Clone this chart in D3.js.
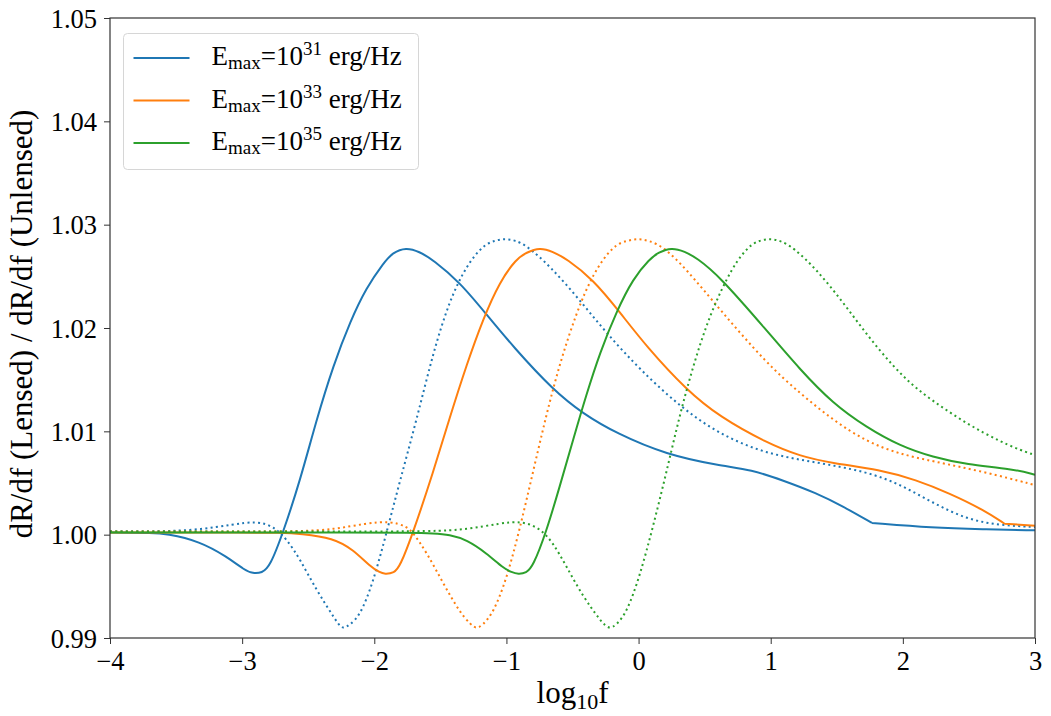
<!DOCTYPE html>
<html>
<head>
<meta charset="utf-8">
<script src="https://cdn.jsdelivr.net/npm/d3@7"></script>
<style>
  html, body { margin: 0; padding: 0; background: #fff; }
  svg text { font-family: "Liberation Serif", "Times New Roman", serif; fill: #000; }
</style>
</head>
<body>
<svg id="chart" width="1051" height="716"></svg>
<script>
// log10 f and lensed/unlensed rate ratio for each maximum energy
const blueSolid = [
  [-4.0, 1.0002], [-3.85, 1.0002], [-3.7, 1.00018], [-3.57, 1.0001], [-3.32, 0.99935], [-3.12, 0.9979],
  [-2.98, 0.99655], [-2.92, 0.99625], [-2.85, 0.9963], [-2.79, 0.9969], [-2.69, 1.0002], [-2.56, 1.0053], [-2.44, 1.0110],
  [-2.31, 1.0164], [-2.18, 1.0207], [-2.06, 1.0239], [-1.93, 1.0263], [-1.86, 1.0273], [-1.76, 1.0278],
  [-1.66, 1.0274], [-1.555, 1.0266], [-1.35, 1.0244], [-1.15, 1.0213], [-0.95, 1.0182], [-0.647, 1.0140],
  [-0.42, 1.0117], [-0.167, 1.0098], [0.21, 1.00774], [0.614, 1.00668], [0.854, 1.00630],
  [1.093, 1.00525], [1.345, 1.00403], [1.547, 1.00274], [1.766, 1.00113],
  [2.228, 1.00065], [2.6, 1.00052], [3.0, 1.00042]
];
const blueDotted = [
  [-4.0, 1.0003], [-3.8, 1.0003], [-3.57, 1.00032], [-3.32, 1.0005], [-3.07, 1.00097], [-2.89, 1.00132],
  [-2.76, 1.0008], [-2.66, 0.99952], [-2.56, 0.99758], [-2.44, 0.99468], [-2.31, 0.99209], [-2.27, 0.99130],
  [-2.235, 0.99088], [-2.19, 0.99125], [-2.11, 0.99209], [-2.01, 0.99532], [-1.907, 1.0002], [-1.806, 1.0052],
  [-1.68, 1.0111], [-1.555, 1.0176], [-1.43, 1.0227], [-1.30, 1.0261], [-1.176, 1.0280], [-1.09, 1.02847],
  [-1.01, 1.02864], [-0.93, 1.02847], [-0.85, 1.0280], [-0.67, 1.0260], [-0.445, 1.0227], [-0.243, 1.0195],
  [0.009, 1.0160], [0.312, 1.0124], [0.614, 1.0097], [0.967, 1.00780], [1.345, 1.0070],
  [1.724, 1.0061], [1.976, 1.0049], [2.228, 1.00307], [2.48, 1.00150], [2.73, 1.00090],
  [3.0, 1.00075]
];
const orangeSolid = [
  [-4.0, 1.0002], [-3.5, 1.0002], [-3.0, 1.0002], [-2.7, 1.00019], [-2.56, 1.0001], [-2.31, 0.99968], [-2.16, 0.99855],
  [-2.03, 0.9969], [-1.96, 0.99635], [-1.92, 0.99618], [-1.85, 0.9963], [-1.806, 0.9969], [-1.706, 1.0002], [-1.555, 1.0060],
  [-1.43, 1.0113], [-1.30, 1.0165], [-1.176, 1.0209], [-1.05, 1.0245], [-0.924, 1.0267], [-0.85, 1.0273],
  [-0.747, 1.0278], [-0.65, 1.0274], [-0.545, 1.0267], [-0.344, 1.0247], [-0.14, 1.0215], [0.06, 1.0182],
  [0.362, 1.0140], [0.614, 1.01140], [0.967, 1.0089], [1.22, 1.0076], [1.47, 1.00690],
  [1.825, 1.00630], [2.10, 1.0053], [2.354, 1.0040], [2.61, 1.0024],
  [2.77, 1.00106], [3.0, 1.00087]
];
const orangeDotted = [
  [-4.0, 1.0003], [-3.5, 1.0003], [-3.0, 1.0003], [-2.56, 1.00032], [-2.31, 1.0005], [-2.06, 1.0011], [-1.88, 1.00132],
  [-1.756, 1.0008], [-1.706, 1.0002], [-1.60, 0.9982], [-1.48, 0.99532], [-1.35, 0.99242], [-1.27, 0.99130],
  [-1.226, 0.99088], [-1.18, 0.99125], [-1.10, 0.99242], [-1.0, 0.99565], [-0.90, 1.0005], [-0.80, 1.0060],
  [-0.70, 1.0115], [-0.596, 1.0166], [-0.47, 1.0215], [-0.344, 1.0253], [-0.193, 1.0280], [-0.085, 1.02847],
  [-0.004, 1.02864], [0.075, 1.02847], [0.185, 1.0279], [0.362, 1.0257], [0.614, 1.0218], [0.967, 1.0166],
  [1.22, 1.0137], [1.47, 1.0111], [1.724, 1.0090], [1.976, 1.0078], [2.228, 1.0071],
  [2.61, 1.0061], [3.0, 1.0048]
];
const greenSolid = [
  [-4.0, 1.0002], [-3.0, 1.0002], [-2.2, 1.0002], [-1.7, 1.00019], [-1.555, 1.00012], [-1.43, 1.0000], [-1.30, 0.9995],
  [-1.15, 0.9982], [-1.025, 0.99678], [-0.96, 0.99635], [-0.91, 0.99618], [-0.85, 0.9963], [-0.80, 0.9969], [-0.70, 1.0002],
  [-0.596, 1.0047], [-0.495, 1.0092], [-0.394, 1.0136], [-0.293, 1.0176], [-0.167, 1.0216],
  [-0.041, 1.0248], [0.085, 1.0267], [0.15, 1.0273], [0.249, 1.0278], [0.35, 1.0274], [0.438, 1.0268], [0.614, 1.0250],
  [0.967, 1.0198], [1.22, 1.0160], [1.47, 1.0127], [1.724, 1.0104],
  [1.976, 1.0086], [2.228, 1.0075], [2.48, 1.0068], [2.833, 1.00636], [3.0, 1.0058]
];
const greenDotted = [
  [-4.0, 1.0003], [-3.0, 1.0003], [-2.2, 1.0003], [-1.555, 1.00032], [-1.30, 1.0005], [-1.05, 1.0011], [-0.886, 1.00132],
  [-0.747, 1.00065], [-0.646, 0.9992], [-0.545, 0.9969], [-0.42, 0.9940], [-0.293, 0.99177], [-0.26, 0.99130],
  [-0.218, 0.99088], [-0.17, 0.99125], [-0.091, 0.99242], [0.009, 0.99597], [0.11, 1.0008], [0.21, 1.0060],
  [0.31, 1.0115], [0.412, 1.0163], [0.538, 1.0213], [0.715, 1.0261],
  [0.841, 1.0280], [0.913, 1.02847], [0.993, 1.02864], [1.073, 1.02847], [1.17, 1.0278], [1.345, 1.0257], [1.547, 1.0225],
  [1.724, 1.0194], [1.925, 1.0163], [2.10, 1.0141], [2.354, 1.0118], [2.61, 1.0098],
  [2.86, 1.0083], [3.0, 1.0077]
];

const xTicks = [-4, -3, -2, -1, 0, 1, 2, 3];
const yTicks = [0.99, 1.00, 1.01, 1.02, 1.03, 1.04, 1.05];
const legendExponents = ["31", "33", "35"];
const colors = ["#1f77b4", "#ff7f0e", "#2ca02c"];

// "corner" marks the log10 f where a curve has a sharp bend
const series = [
  { data: blueSolid, color: colors[0], dotted: false, corner: 1.766 },
  { data: blueDotted, color: colors[0], dotted: true },
  { data: orangeSolid, color: colors[1], dotted: false, corner: 2.77 },
  { data: orangeDotted, color: colors[1], dotted: true },
  { data: greenSolid, color: colors[2], dotted: false },
  { data: greenDotted, color: colors[2], dotted: true }
];

const svg = d3.select("#chart");
const margin = { left: 110, right: 16, top: 18, bottom: 78 };
const W = 1051, H = 716;
const x = d3.scaleLinear().domain([-4, 3]).range([margin.left, W - margin.right]);
const y = d3.scaleLinear().domain([0.99, 1.05]).range([H - margin.bottom, margin.top]);

svg.append("defs").append("clipPath").attr("id", "plot-clip")
  .append("rect")
  .attr("x", x(-4)).attr("y", y(1.05))
  .attr("width", x(3) - x(-4)).attr("height", y(0.99) - y(1.05));

const line = d3.line()
  .x(d => x(d[0]))
  .y(d => y(d[1]))
  .curve(d3.curveBasis);

const plot = svg.append("g").attr("clip-path", "url(#plot-clip)");
series.forEach(s => {
  const pieces = s.corner === undefined
    ? [s.data]
    : [s.data.filter(d => d[0] <= s.corner), s.data.filter(d => d[0] >= s.corner)];
  const path = pieces.map(p => line(p)).join("");
  plot.append("path")
    .attr("d", path)
    .attr("fill", "none")
    .attr("stroke", s.color)
    .attr("stroke-width", 2)
    .attr("stroke-linejoin", "round")
    .attr("stroke-dasharray", s.dotted ? "2,3.3" : null);
});

// axes
const fmtX = d => (d < 0 ? "\u2212" + Math.abs(d) : String(d));
const xAxis = d3.axisBottom(x).tickValues(xTicks).tickFormat(fmtX).tickSizeOuter(0).tickSize(6).tickPadding(7);
const yAxis = d3.axisLeft(y).tickValues(yTicks).tickFormat(d3.format(".2f")).tickSizeOuter(0).tickSize(6).tickPadding(7);

const gx = svg.append("g").attr("transform", `translate(0,${y(0.99)})`).call(xAxis);
const gy = svg.append("g").attr("transform", `translate(${x(-4)},0)`).call(yAxis);
[gx, gy].forEach(g => {
  g.attr("font-family", null).attr("font-size", null);
  g.select(".domain").remove();
  g.selectAll(".tick line").attr("stroke", "#333").attr("stroke-width", 1);
  g.selectAll(".tick text").attr("font-size", 26.5).attr("fill", "#000");
});
gy.selectAll(".tick text").attr("dy", "0.34em");

// frame
svg.append("rect")
  .attr("x", x(-4)).attr("y", y(1.05))
  .attr("width", x(3) - x(-4)).attr("height", y(0.99) - y(1.05))
  .attr("fill", "none").attr("stroke", "#333").attr("stroke-width", 1.2);

// axis labels
const xl = svg.append("text")
  .attr("x", (x(-4) + x(3)) / 2).attr("y", 703)
  .attr("text-anchor", "middle").attr("font-size", 31);
xl.append("tspan").text("log");
xl.append("tspan").attr("font-size", 22).attr("dy", 6).text("10");
xl.append("tspan").attr("dy", -6).text("f");

svg.append("text")
  .attr("transform", `translate(32,${(y(0.99) + y(1.05)) / 2 - 4}) rotate(-90)`)
  .attr("text-anchor", "middle").attr("font-size", 31)
  .text("dR/df (Lensed) / dR/df (Unlensed)");

// legend
const lg = svg.append("g").attr("transform", "translate(123.5,33.5)");
lg.append("rect")
  .attr("x", 0).attr("y", 0).attr("width", 295).attr("height", 136)
  .attr("rx", 4).attr("fill", "#fff").attr("fill-opacity", 0.8)
  .attr("stroke", "#d6d6d6").attr("stroke-width", 1);
legendExponents.forEach((e, i) => {
  const cy = 24.5 + i * 42.5;
  lg.append("line")
    .attr("x1", 10).attr("x2", 66).attr("y1", cy).attr("y2", cy)
    .attr("stroke", colors[i]).attr("stroke-width", 2);
  const t = lg.append("text").attr("x", 88).attr("y", cy + 7).attr("font-size", 27);
  t.append("tspan").text("E");
  t.append("tspan").attr("font-size", 19).attr("dy", 4).text("max");
  t.append("tspan").attr("dy", -4).text("=10");
  t.append("tspan").attr("font-size", 19).attr("dy", -10).text(e);
  t.append("tspan").attr("dy", 10).text(" erg/Hz");
});
</script>
</body>
</html>
